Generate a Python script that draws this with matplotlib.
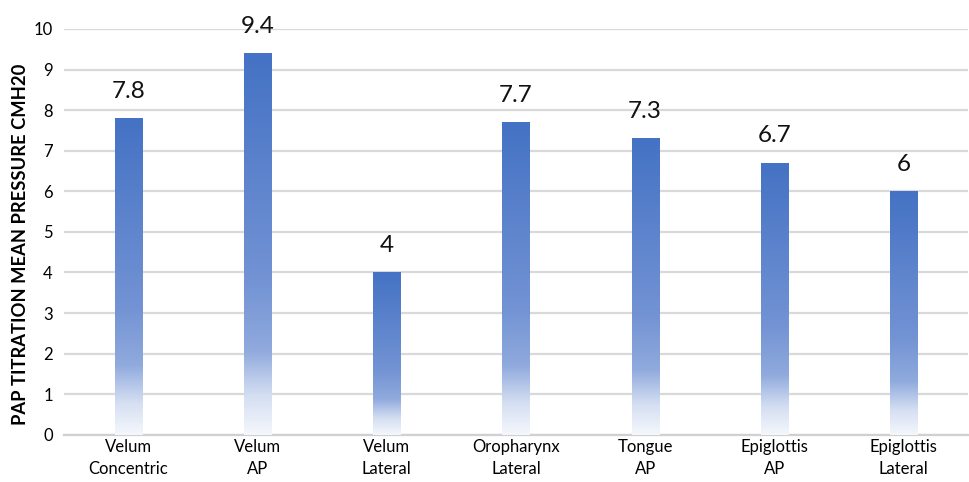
import matplotlib.pyplot as plt
import numpy as np
from matplotlib.colors import LinearSegmentedColormap

plt.rcParams['font.family'] = ['Lato', 'DejaVu Sans']

categories = ['Velum\nConcentric', 'Velum\nAP', 'Velum\nLateral', 'Oropharynx\nLateral',
              'Tongue\nAP', 'Epiglottis\nAP', 'Epiglottis\nLateral']
values = [7.8, 9.4, 4, 7.7, 7.3, 6.7, 6]
labels = ['7.8', '9.4', '4', '7.7', '7.3', '6.7', '6']

# vertical fill: pale at the base, solid blue at the top
grad = LinearSegmentedColormap.from_list(
    'bar_grad',
    [(0.0, '#F4F7FC'), (0.1, '#D5DFF2'), (0.22, '#90AADD'),
     (0.4, '#7393D4'), (1.0, '#4472C4')])

fig = plt.figure(figsize=(9.69, 4.82), dpi=100)
ax = fig.add_axes([0.066, 0.098, 0.933, 0.842])

x = np.arange(len(categories))
bars = ax.bar(x, values, width=0.21, color='none', edgecolor='none', zorder=3)

ramp = np.linspace(0, 1, 256).reshape(-1, 1)
for b in bars:
    x0, w, h = b.get_x(), b.get_width(), b.get_height()
    im = ax.imshow(ramp, cmap=grad, origin='lower', aspect='auto',
                   extent=[x0, x0 + w, 0, h], zorder=3, interpolation='bicubic')
    im.set_clip_path(b)

for xi, v, lab in zip(x, values, labels):
    ax.annotate(lab, (xi, v), xytext=(0, 12), textcoords='offset points',
                ha='center', va='bottom', fontsize=17.5, color='#111111')

ax.set_xlim(-0.5, len(categories) - 0.5)
ax.set_ylim(0, 10)
ax.set_yticks(range(0, 11))
ax.set_xticks(x)
ax.set_xticklabels(categories, fontsize=12, linespacing=1.45)
ax.tick_params(axis='y', labelsize=12, length=0, pad=8)
ax.tick_params(axis='x', length=0, pad=3)

ax.grid(axis='y', color='#D9D9D9', linewidth=1.6, zorder=0)
ax.set_axisbelow(True)
for s in ['top', 'right', 'left']:
    ax.spines[s].set_visible(False)
ax.spines['bottom'].set_color('#D0D0D0')
ax.spines['bottom'].set_linewidth(1.6)

ax.set_ylabel('PAP TITRATION MEAN PRESSURE CMH20', fontsize=13.2, fontweight='bold',
              va='center')
ax.yaxis.set_label_coords(-0.048, 0.47)

fig.savefig('out.png', dpi=100)
